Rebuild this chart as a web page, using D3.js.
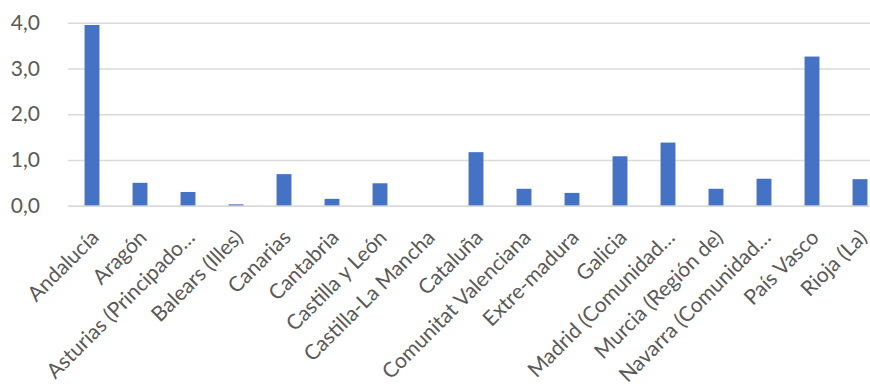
<!DOCTYPE html>
<html>
<head>
<meta charset="utf-8">
<script src="https://cdn.jsdelivr.net/npm/d3@7"></script>
<style>
  html, body { margin: 0; padding: 0; background: #ffffff; }
  svg { display: block; }
</style>
</head>
<body>
<svg id="chart" width="870" height="387"></svg>
<script>
const categories = [
  "Andalucía", "Aragón", "Asturias (Principado…", "Balears (Illes)", "Canarias",
  "Cantabria", "Castilla y León", "Castilla-La Mancha", "Cataluña",
  "Comunitat Valenciana", "Extre-madura", "Galicia", "Madrid (Comunidad…",
  "Murcia (Región de)", "Navarra (Comunidad…", "País Vasco", "Rioja (La)"
];
const values = [3.95, 0.50, 0.30, 0.03, 0.69, 0.15, 0.49, 0.0, 1.17, 0.37, 0.28, 1.08, 1.38, 0.37, 0.59, 3.26, 0.58];
const yTicks = [0, 1, 2, 3, 4];

const svg = d3.select("#chart");
const font = "Lato, 'Open Sans', sans-serif";
const textColor = "#595959";
const gridColor = "#D9D9D9";
const barColor = "#4472C4";

const y = d3.scaleLinear().domain([0, 4]).range([205.7, 22.7]);
const x = d3.scaleBand().domain(categories).range([68, 884]).paddingInner(0.69).paddingOuter(0.345);

// gridlines
const yAxis = d3.axisLeft(y).tickValues(yTicks).tickSize(-(884 - 68)).tickFormat(d => d3.format(".1f")(d).replace(".", ","));
const gy = svg.append("g").attr("transform", "translate(68,0)").call(yAxis);
gy.select(".domain").remove();
gy.selectAll(".tick line").attr("stroke", gridColor).attr("stroke-width", 1.4);
gy.selectAll(".tick text")
  .attr("x", -28)
  .attr("fill", textColor)
  .style("font-family", font)
  .style("font-size", "21px");

// bars
svg.append("g").selectAll("rect").data(values).join("rect")
  .attr("x", (d, i) => x(categories[i]))
  .attr("y", d => y(d))
  .attr("width", x.bandwidth())
  .attr("height", d => y(0) - y(d))
  .attr("fill", barColor);

// x axis
const xAxis = d3.axisBottom(x).tickSize(0).tickSizeOuter(0);
const gx = svg.append("g").attr("transform", `translate(0,${y(0)})`).call(xAxis);
gx.select(".domain").attr("stroke", gridColor).attr("stroke-width", 1.4);
gx.selectAll(".tick text")
  .attr("fill", textColor)
  .style("font-family", font)
  .style("font-size", "21px")
  .attr("text-anchor", "end")
  .attr("x", 0).attr("y", 0).attr("dy", "0.75em")
  .attr("transform", "translate(-3,22) rotate(-45)");
</script>
</body>
</html>
